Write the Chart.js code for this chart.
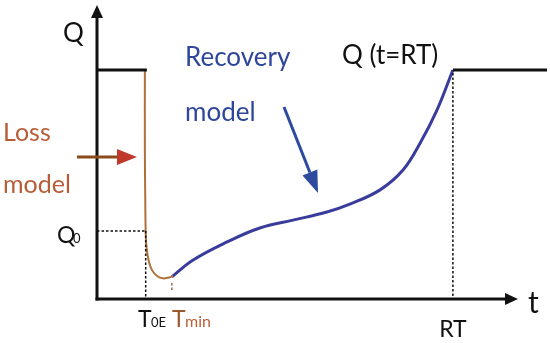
<!DOCTYPE html>
<html>
<head>
<meta charset="utf-8">
<script src="https://cdn.jsdelivr.net/npm/chart.js@4"></script>
<style>
  body { margin: 0; background: #fff; }
  #wrap { width: 550px; height: 343px; }
</style>
</head>
<body>
<div id="wrap"><canvas id="Resilience"></canvas></div>
<script>
  // key levels / times (arbitrary units)
  const Q_TOP = 7.87;
  const Q_0 = 2.34;
  const T_0E = 1.17;
  const T_MIN = 1.83;
  const RT = 8.70;
  const T_END = 11;

  // loss model curve
  const lossT = [1.17, 1.17, 1.18, 1.19, 1.21, 1.26, 1.34, 1.47, 1.61, 1.76, 1.86];
  const lossQ = [7.87, 5.10, 3.40, 2.34, 1.79, 1.34, 1.00, 0.79, 0.71, 0.74, 0.79];

  // recovery model curve
  const recT = [1.83, 2.35, 3.18, 3.98, 4.79, 5.62, 6.18, 6.92, 7.48, 7.90, 8.31, 8.70];
  const recQ = [0.76, 1.34, 1.96, 2.44, 2.71, 2.99, 3.26, 3.75, 4.43, 5.36, 6.49, 7.87];

  const pts = (xs, ys) => xs.map((x, i) => ({ x: x, y: ys[i] }));

  const dotted = (data, color) => ({
    data: data, showLine: true, borderColor: color, borderWidth: 1.5,
    borderDash: [2.5, 2], pointRadius: 0, tension: 0
  });

  const datos = {
    datasets: [
      { data: [{ x: 0, y: Q_TOP }, { x: 1.22, y: Q_TOP }], showLine: true,
        borderColor: '#111', borderWidth: 3, pointRadius: 0 },
      { data: [{ x: RT, y: Q_TOP }, { x: T_END, y: Q_TOP }], showLine: true,
        borderColor: '#111', borderWidth: 3, pointRadius: 0 },
      dotted([{ x: 0, y: Q_0 }, { x: T_0E, y: Q_0 }], '#111'),
      dotted([{ x: T_0E + 0.02, y: Q_0 }, { x: T_0E + 0.02, y: 0 }], '#111'),
      dotted([{ x: RT, y: Q_TOP - 0.1 }, { x: RT, y: 0 }], '#111'),
      dotted([{ x: T_MIN, y: 0.55 }, { x: T_MIN, y: 0.25 }], '#9a6a40'),
      { data: pts(lossT, lossQ), showLine: true, borderColor: '#b0703a',
        borderWidth: 2, pointRadius: 0, tension: 0.4 },
      { data: pts(recT, recQ), showLine: true, borderColor: '#3a3c9c',
        borderWidth: 3, pointRadius: 0, tension: 0.4 }
    ]
  };

  function arrow(ctx, x1, y1, x2, y2, shaft, head, w, hl, hw) {
    const a = Math.atan2(y2 - y1, x2 - x1);
    const bx = x2 - hl * Math.cos(a), by = y2 - hl * Math.sin(a);
    ctx.strokeStyle = shaft; ctx.lineWidth = w;
    ctx.beginPath(); ctx.moveTo(x1, y1); ctx.lineTo(bx, by); ctx.stroke();
    ctx.fillStyle = head;
    ctx.beginPath();
    ctx.moveTo(x2, y2);
    ctx.lineTo(bx + hw * Math.sin(a), by - hw * Math.cos(a));
    ctx.lineTo(bx - hw * Math.sin(a), by + hw * Math.cos(a));
    ctx.closePath(); ctx.fill();
  }

  const dibujo = {
    id: 'dibujo',
    beforeDatasetsDraw(chart) {
      const ctx = chart.ctx;
      const x0 = chart.scales.x.getPixelForValue(0);
      const y0 = chart.scales.y.getPixelForValue(0);
      ctx.save();
      arrow(ctx, x0, y0 + 1.5, x0, 5, '#111', '#111', 3, 13, 6);
      arrow(ctx, x0 - 1.5, y0, 518, y0, '#111', '#111', 3, 13, 6);
      ctx.restore();
    },
    afterDraw(chart) {
      const ctx = chart.ctx;
      const px = v => chart.scales.x.getPixelForValue(v);
      const py = v => chart.scales.y.getPixelForValue(v);
      const F = 'Lato, "Liberation Sans", sans-serif';
      ctx.save();
      ctx.textBaseline = 'alphabetic';
      ctx.textAlign = 'left';

      // axis titles
      ctx.fillStyle = '#111';
      ctx.font = '26px ' + F;
      ctx.fillText('Q', 63, 42);
      ctx.font = '30px ' + F;
      ctx.fillText('t', 528, 313);

      // tick-like labels
      ctx.font = '23px ' + F;
      ctx.fillText('Q', 57, py(Q_0) + 12);
      ctx.font = '13px ' + F;
      ctx.fillText('0', 73, py(Q_0) + 12);

      ctx.font = '23px ' + F;
      ctx.fillText('T', 138, 327);
      ctx.font = '13px ' + F;
      ctx.fillText('0E', 151, 327);
      ctx.fillStyle = '#9a5a2e';
      ctx.font = '23px ' + F;
      ctx.fillText('T', 172, 327);
      ctx.fillStyle = '#b8613a';
      ctx.font = '16px ' + F;
      ctx.fillText('min', 185, 327);

      ctx.fillStyle = '#111';
      ctx.font = '23px ' + F;
      ctx.textAlign = 'center';
      ctx.fillText('RT', px(RT), 337);
      ctx.textAlign = 'left';

      ctx.font = '26px ' + F;
      ctx.fillText('Q (t=RT)', 342, 64);

      // recovery label + arrow
      ctx.fillStyle = '#2f479b';
      ctx.fillText('Recovery', 185, 66);
      ctx.fillText('model', 185, 121);
      arrow(ctx, 284, 107, 318, 193, '#2e4a9e', '#2e4a9e', 3, 22, 8);

      // loss label + arrow
      ctx.font = '25px ' + F;
      ctx.fillStyle = '#b85c38';
      ctx.fillText('Loss', 3, 141);
      ctx.fillText('model', 3, 193);
      arrow(ctx, 77, 157, 137, 157, '#8b4a1c', '#c0392b', 3, 20, 8);

      ctx.restore();
    }
  };

  const config = {
    type: 'scatter',
    data: datos,
    options: {
      responsive: true,
      maintainAspectRatio: false,
      animation: false,
      layout: { padding: { left: 97, right: 3, top: 8, bottom: 44 } },
      plugins: { legend: { display: false }, tooltip: { enabled: false } },
      scales: {
        x: { type: 'linear', min: 0, max: T_END, display: false },
        y: { type: 'linear', min: 0, max: 10, display: false }
      }
    },
    plugins: [dibujo]
  };

  const grafico = new Chart(document.getElementById('Resilience'), config);
</script>
</body>
</html>
